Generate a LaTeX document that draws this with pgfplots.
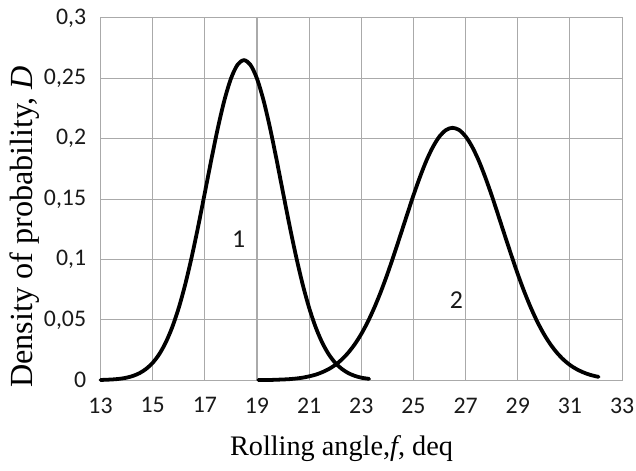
\documentclass[border=0pt]{standalone}
\usepackage{pgfplots}
\pgfplotsset{compat=1.18}
\usepackage{fontspec}
\setmainfont{Liberation Serif}
\newfontfamily\tickfont{Carlito}
\definecolor{gridgray}{RGB}{170,170,170}
\begin{document}
\begin{tikzpicture}
\useasboundingbox (-101bp,-91bp) rectangle (538bp,382bp);
\begin{axis}[
  scale only axis,
  width=524bp, height=364bp,
  xmin=13, xmax=33, ymin=0, ymax=0.3,
  xtick={13,15,...,33},
  ytick={0,0.05,0.1,0.15,0.2,0.25,0.3},
  yticklabels={0,{0,05},{0,1},{0,15},{0,2},{0,25},{0,3}},
  scaled y ticks=false,
  /pgf/number format/assume math mode=true,
  major tick length=0pt,
  grid=major,
  major grid style={draw=gridgray, line width=1.1bp},
  axis line style={draw=gridgray, line width=1.1bp},
  tick label style={font=\tickfont\fontsize{24}{28}\selectfont, text=black!90},
  xticklabel style={yshift=-14bp},
  yticklabel style={xshift=-11bp},
  xlabel={Rolling angle,\textit{f}, deq},
  ylabel={Density of probability, \textit{D}},
  xlabel style={font=\fontsize{28.5}{32}\selectfont, at={(axis description cs:0.462,-0.19)}, anchor=center},
  ylabel style={font=\fontsize{32.5}{36}\selectfont, at={(axis description cs:-0.145,0.423)}, anchor=center},
  clip=false,
]
\addplot[black, line width=3.8bp, line cap=round, smooth] coordinates {
(13,0.0002) (13.25,0.0004) (13.5,0.0007) (13.75,0.0012) (14,0.0021) (14.25,0.0036)
(14.5,0.0059) (14.75,0.0094) (15,0.0144) (15.25,0.0215) (15.5,0.0312) (15.75,0.0439)
(16,0.0599) (16.25,0.0795) (16.5,0.1024) (16.75,0.1279) (17,0.1552) (17.25,0.1827)
(17.5,0.2089) (17.75,0.2318) (18,0.2497) (18.25,0.2611) (18.5,0.265) (18.75,0.2611)
(19,0.2497) (19.25,0.2318) (19.5,0.2089) (19.75,0.1827) (20,0.1552) (20.25,0.1279)
(20.5,0.1024) (20.75,0.0795) (21,0.0599) (21.25,0.0439) (21.5,0.0312) (21.75,0.0215)
(22,0.0144) (22.25,0.0094) (22.5,0.0059) (22.75,0.0036) (23,0.0021) (23.3,0.0011)
};
\addplot[black, line width=3.8bp, line cap=round, smooth] coordinates {
(19.05,0.0001) (19.5,0.0002) (19.75,0.0004) (20,0.0006) (20.25,0.0009) (20.5,0.0014)
(20.75,0.0021) (21,0.0032) (21.25,0.0046) (21.5,0.0066) (21.75,0.0092) (22,0.0126)
(22.25,0.0171) (22.5,0.0228) (22.75,0.0298) (23,0.0383) (23.25,0.0484) (23.5,0.0601)
(23.75,0.0733) (24,0.0879) (24.25,0.1037) (24.5,0.1201) (24.75,0.1367) (25,0.1531)
(25.25,0.1683) (25.5,0.1820) (25.75,0.1933) (26,0.2019) (26.25,0.2072) (26.5,0.209)
(26.75,0.2072) (27,0.2019) (27.25,0.1933) (27.5,0.1820) (27.75,0.1683) (28,0.1531)
(28.25,0.1367) (28.5,0.1201) (28.75,0.1037) (29,0.0879) (29.25,0.0733) (29.5,0.0601)
(29.75,0.0484) (30,0.0383) (30.25,0.0298) (30.5,0.0228) (30.75,0.0171) (31,0.0126)
(31.25,0.0092) (31.5,0.0066) (31.75,0.0046) (32,0.0032) (32.1,0.0028)
};
\node[font=\tickfont\fontsize{26}{29}\selectfont, text=black!90] at (axis cs:18.3,0.117) {1};
\node[font=\tickfont\fontsize{26}{29}\selectfont, text=black!90] at (axis cs:26.65,0.066) {2};
\end{axis}
\end{tikzpicture}
\end{document}
